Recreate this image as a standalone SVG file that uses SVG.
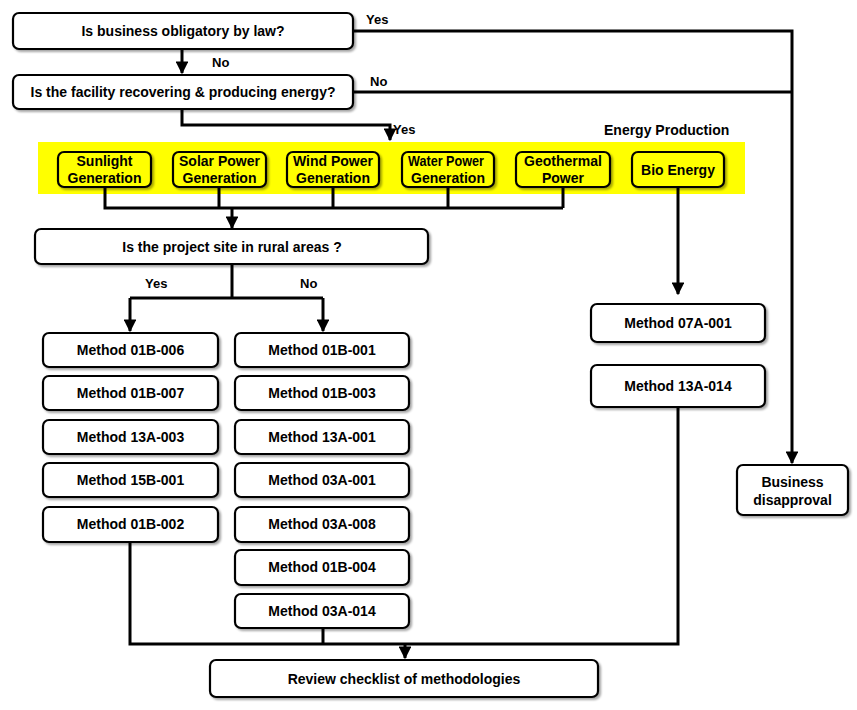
<svg xmlns="http://www.w3.org/2000/svg" width="857" height="710" viewBox="0 0 857 710">
<defs>
<marker id="arr" viewBox="0 0 10 10" refX="9" refY="5" markerWidth="4.3" markerHeight="4.3" orient="auto" markerUnits="strokeWidth">
<path d="M0,0 L10,5 L0,10 z" fill="#000"/>
</marker>
<filter id="sh" x="-10%" y="-20%" width="130%" height="160%">
<feDropShadow dx="2" dy="2" stdDeviation="1.2" flood-color="#000" flood-opacity="0.35"/>
</filter>
</defs>
<style>
.box{fill:#fff;stroke:#000;stroke-width:2.2;filter:url(#sh)}
.ybox{fill:#ffff00;stroke:#000;stroke-width:2.2;filter:url(#sh)}
.t{font-family:"Liberation Sans","Noto Sans",sans-serif;font-weight:bold;font-size:14px;fill:#000;text-anchor:middle}
.lbl{font-family:"Liberation Sans","Noto Sans",sans-serif;font-weight:bold;font-size:13px;fill:#000}
.ln{fill:none;stroke:#000;stroke-width:3}
.la{fill:none;stroke:#000;stroke-width:3;marker-end:url(#arr)}
</style>
<rect x="38" y="142" width="707" height="52" fill="#ffff00"/>
<g id="connectors">
<path class="la" d="M353,31 H792 V463"/>
<path class="ln" d="M353,92 H792"/>
<path class="la" d="M182,49 V73"/>
<path class="la" d="M182,109 V125 H390 V140"/>
<path class="ln" d="M105,187 V208 H563 M219,187 V208 M333,187 V208 M448,187 V208 M563,187 V208"/>
<path class="la" d="M232,208 V228"/>
<path class="ln" d="M232,264 V298 H130 M232,298 H323"/>
<path class="la" d="M130,298 V331"/>
<path class="la" d="M323,298 V331"/>
<path class="la" d="M678,187 V294"/>
<path class="ln" d="M130,542 V644 H678 V407 M323,628 V644"/>
<path class="la" d="M405,644 V658"/>
<text class="lbl" x="366" y="24">Yes</text>
<text class="lbl" x="370" y="86">No</text>
<text class="lbl" x="212" y="67">No</text>
<text class="lbl" x="393" y="134">Yes</text>
<text class="lbl" x="145" y="288">Yes</text>
<text class="lbl" x="300" y="288">No</text>
<text class="lbl" x="604" y="135" style="font-size:14px">Energy Production</text>
</g>
<g id="q1"><rect class="box" x="13" y="13" width="340" height="36" rx="6"/><text class="t" x="183" y="36">Is business obligatory by law?</text></g>
<g id="q2"><rect class="box" x="13" y="75" width="340" height="34" rx="6"/><text class="t" x="183" y="97">Is the facility recovering &amp; producing energy?</text></g>
<g id="sunlight"><rect class="ybox" x="58" y="152" width="93" height="35" rx="6"/><text class="t" x="104.5" y="166">Sunlight</text><text class="t" x="104.5" y="183">Generation</text></g>
<g id="solar"><rect class="ybox" x="173" y="152" width="93" height="35" rx="6"/><text class="t" x="219.5" y="166">Solar Power</text><text class="t" x="219.5" y="183">Generation</text></g>
<g id="wind"><rect class="ybox" x="287" y="152" width="92" height="35" rx="6"/><text class="t" x="333" y="166">Wind Power</text><text class="t" x="333" y="183">Generation</text></g>
<g id="water"><rect class="ybox" x="402" y="152" width="92" height="35" rx="6"/><text class="t" x="446" y="166" textLength="76" lengthAdjust="spacingAndGlyphs">Water Power</text><text class="t" x="448" y="183">Generation</text></g>
<g id="geo"><rect class="ybox" x="516" y="152" width="94" height="35" rx="6"/><text class="t" x="563" y="166">Geothermal</text><text class="t" x="563" y="183">Power</text></g>
<g id="bio"><rect class="ybox" x="632" y="152" width="92" height="35" rx="6"/><text class="t" x="678" y="175">Bio Energy</text></g>
<g id="q3"><rect class="box" x="35" y="229" width="393" height="35" rx="6"/><text class="t" x="232" y="252">Is the project site in rural areas ?</text></g>
<g id="m01b006"><rect class="box" x="43" y="333" width="175" height="34" rx="6"/><text class="t" x="130.5" y="355">Method 01B-006</text></g>
<g id="m01b007"><rect class="box" x="43" y="376" width="175" height="34" rx="6"/><text class="t" x="130.5" y="398">Method 01B-007</text></g>
<g id="m13a003"><rect class="box" x="43" y="420" width="175" height="34" rx="6"/><text class="t" x="130.5" y="442">Method 13A-003</text></g>
<g id="m15b001"><rect class="box" x="43" y="463" width="175" height="34" rx="6"/><text class="t" x="130.5" y="485">Method 15B-001</text></g>
<g id="m01b002"><rect class="box" x="43" y="507" width="175" height="35" rx="6"/><text class="t" x="130.5" y="529">Method 01B-002</text></g>
<g id="m01b001"><rect class="box" x="235" y="333" width="174" height="34" rx="6"/><text class="t" x="322" y="355">Method 01B-001</text></g>
<g id="m01b003"><rect class="box" x="235" y="376" width="174" height="34" rx="6"/><text class="t" x="322" y="398">Method 01B-003</text></g>
<g id="m13a001"><rect class="box" x="235" y="420" width="174" height="34" rx="6"/><text class="t" x="322" y="442">Method 13A-001</text></g>
<g id="m03a001"><rect class="box" x="235" y="463" width="174" height="34" rx="6"/><text class="t" x="322" y="485">Method 03A-001</text></g>
<g id="m03a008"><rect class="box" x="235" y="507" width="174" height="35" rx="6"/><text class="t" x="322" y="529">Method 03A-008</text></g>
<g id="m01b004"><rect class="box" x="235" y="550" width="174" height="35" rx="6"/><text class="t" x="322" y="572">Method 01B-004</text></g>
<g id="m03a014"><rect class="box" x="235" y="594" width="174" height="34" rx="6"/><text class="t" x="322" y="616">Method 03A-014</text></g>
<g id="m07a001"><rect class="box" x="591" y="304" width="174" height="38" rx="6"/><text class="t" x="678" y="328">Method 07A-001</text></g>
<g id="m13a014"><rect class="box" x="591" y="365" width="174" height="42" rx="6"/><text class="t" x="678" y="391">Method 13A-014</text></g>
<g id="disapproval"><rect class="box" x="737" y="465" width="111" height="50" rx="6"/><text class="t" x="792.5" y="487">Business</text><text class="t" x="792.5" y="505">disapproval</text></g>
<g id="review"><rect class="box" x="210" y="660" width="388" height="37" rx="6"/><text class="t" x="404" y="684">Review checklist of methodologies</text></g>
</svg>
